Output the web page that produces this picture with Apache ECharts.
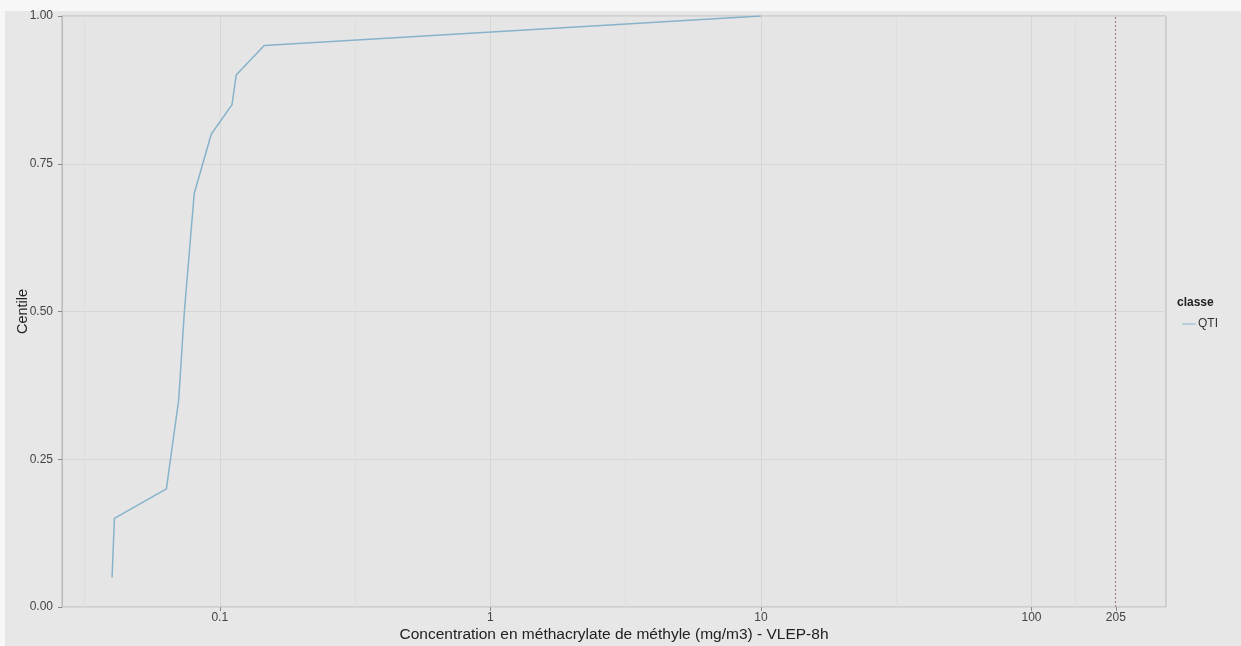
<!DOCTYPE html>
<html>
<head>
<meta charset="utf-8">
<script src="https://cdn.jsdelivr.net/npm/echarts@6/dist/echarts.min.js"></script>
<style>
html,body{margin:0;padding:0;background:#ffffff;}
#chart{width:1241px;height:646px;}
</style>
</head>
<body>
<div id="chart"></div>
<script>
// Data (concentration in mg/m3, centile)
const concentrations = [0.040, 0.0408, 0.0635, 0.0705, 0.074, 0.0805, 0.093, 0.111, 0.115, 0.146, 10.0];
const centiles       = [0.05,  0.15,   0.20,   0.35,   0.50,  0.70,   0.80,  0.85,  0.90,  0.95,  1.00];
const seriesName = 'QTI';
const legendTitle = 'classe';
const xTickValues = [0.1, 1, 10, 100, 205];
const xTickLabels = ['0.1', '1', '10', '100', '205'];
const vlepValue = 205;
const yTickValues = [0, 0.25, 0.5, 0.75, 1];
const xTitle = 'Concentration en méthacrylate de méthyle (mg/m3) - VLEP-8h';
const yTitle = 'Centile';

const lg = Math.log10;
const xMinLog = -1.583, xMaxLog = 2.497;
const majorLog = xTickValues.map(lg);
// minor gridlines at midpoints between breaks (ggplot style), plus one before first
const minorLog = [majorLog[0] - (majorLog[1] - majorLog[0]) / 2];
for (let i = 0; i < majorLog.length - 1; i++) minorLog.push((majorLog[i] + majorLog[i + 1]) / 2);

const labelMap = {};
majorLog.forEach((v, i) => { labelMap[v.toFixed(6)] = xTickLabels[i]; });

const chart = echarts.init(document.getElementById('chart'));
const font = 'Liberation Sans, Arial, sans-serif';
const gridColor = '#d6d6d6';
const minorColor = '#dedede';

const option = {
  backgroundColor: '#e7e7e7',
  animation: false,
  graphic: [
    { type: 'rect', left: 0, top: 0, shape: { width: 1241, height: 11 }, style: { fill: '#f7f7f7' }, silent: true, z: -10 },
    { type: 'rect', left: 0, top: 0, shape: { width: 5, height: 646 }, style: { fill: '#f7f7f7' }, silent: true, z: -10 },
    { type: 'text', left: 1177, top: 297, style: { text: legendTitle, font: 'bold 12px ' + font, fill: '#222' } }
  ],
  grid: { left: 62, top: 16, right: 75, bottom: 39, containLabel: false, outerBoundsMode: 'none', show: true, backgroundColor: '#e5e5e5', borderColor: '#b9b9b9', borderWidth: 1 },
  legend: {
    data: [seriesName], left: 1177, top: 313, orient: 'vertical',
    itemWidth: 14, itemHeight: 10, itemGap: 4,
    textStyle: { fontFamily: font, fontSize: 12, color: '#333', padding: [0, 0, 0, -3] },
    icon: 'path://M0,4 L14,4 L14,5 L0,5 Z'
  },
  xAxis: {
    type: 'value', min: xMinLog, max: xMaxLog,
    name: xTitle, nameLocation: 'middle', nameGap: 20, nameMoveOverlap: false,
    nameTextStyle: { fontFamily: font, fontSize: 15.5, color: '#222' },
    axisLine: { show: false, onZero: false },
    axisTick: { show: true, customValues: majorLog, length: 4, lineStyle: { color: '#888' } },
    axisLabel: { show: true, customValues: majorLog, fontFamily: font, fontSize: 12, color: '#444', margin: 5,
      formatter: v => labelMap[Number(v).toFixed(6)] || '' },
    splitLine: { show: false }
  },
  yAxis: {
    type: 'value', min: 0, max: 1, interval: 0.25,
    name: yTitle, nameLocation: 'middle', nameGap: 32, nameRotate: 90, nameMoveOverlap: false,
    nameTextStyle: { fontFamily: font, fontSize: 14.5, color: '#222' },
    axisLine: { show: true, onZero: false, lineStyle: { color: '#b9b9b9' } },
    axisTick: { show: true, length: 4, lineStyle: { color: '#888' } },
    axisLabel: { fontFamily: font, fontSize: 12, color: '#444', margin: 9, formatter: v => v.toFixed(2) },
    splitLine: { show: true, lineStyle: { color: gridColor, width: 1 } }
  },
  series: [
    {
      name: seriesName, type: 'line', showSymbol: false, symbol: 'none',
      data: concentrations.map((c, i) => [lg(c), centiles[i]]),
      lineStyle: { color: '#86b3c9', width: 1.5 },
      itemStyle: { color: '#86b3c9' },
      z: 5,
      markLine: {
        silent: true, symbol: 'none', animation: false,
        label: { show: false },
        data: [
          ...minorLog.map(v => ({ xAxis: v, lineStyle: { color: minorColor, width: 1, type: 'solid' } })),
          ...majorLog.slice(0, 4).map(v => ({ xAxis: v, lineStyle: { color: gridColor, width: 1, type: 'solid' } })),
          { xAxis: lg(vlepValue), lineStyle: { color: '#a08890', width: 1.2, type: [2, 2] } }
        ]
      }
    }
  ]
};
chart.setOption(option);
</script>
</body>
</html>
